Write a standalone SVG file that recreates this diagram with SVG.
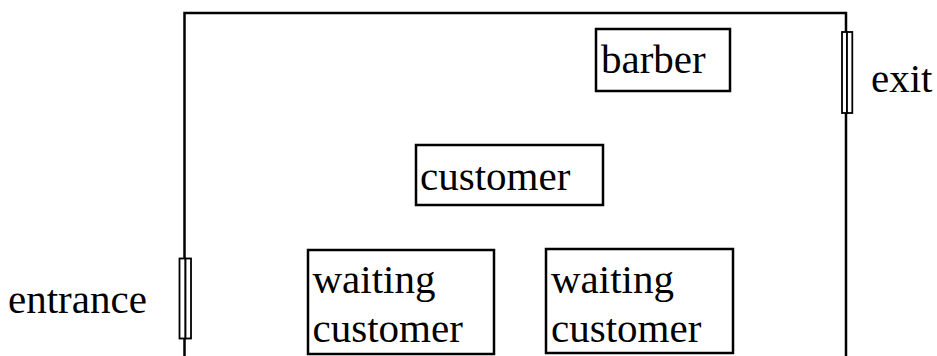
<svg xmlns="http://www.w3.org/2000/svg" width="937" height="356" viewBox="0 0 937 356">
<style>
.ln{fill:none;stroke:#000;stroke-width:2.5}
.bx{fill:#fff;stroke:#000;stroke-width:2.5}
.dr{fill:#fff;stroke:#000;stroke-width:1.8}
text{font-family:"Liberation Serif","Times New Roman",serif;font-size:41px;fill:#000}
</style>
<rect width="937" height="356" fill="#fff"/>
<g id="room">
<path class="ln" d="M184.5,356 V13 H846 V356"/>
</g>
<g id="entrance">
<rect class="dr" x="179.5" y="258.5" width="6" height="80"/>
<rect class="dr" x="185.5" y="258.5" width="5.5" height="80"/>
<text x="8" y="313" font-family="Liberation Serif, serif">entrance</text>
</g>
<g id="exit">
<rect class="dr" x="842" y="32" width="5" height="81"/>
<rect class="dr" x="847" y="32" width="5.3" height="81"/>
<text x="871" y="92" font-family="Liberation Serif, serif">exit</text>
</g>
<g id="barber">
<rect class="bx" x="596" y="29" width="134" height="62"/>
<text x="601" y="73" font-family="Liberation Serif, serif">barber</text>
</g>
<g id="customer">
<rect class="bx" x="416" y="145" width="187" height="60"/>
<text x="420" y="190" font-family="Liberation Serif, serif">customer</text>
</g>
<g id="waiting1">
<rect class="bx" x="308" y="250" width="186" height="104"/>
<text x="312.5" y="293" font-family="Liberation Serif, serif">waiting</text>
<text x="312.5" y="341.5" font-family="Liberation Serif, serif">customer</text>
</g>
<g id="waiting2">
<rect class="bx" x="546" y="249" width="187" height="104"/>
<text x="551" y="293" font-family="Liberation Serif, serif">waiting</text>
<text x="551" y="341.5" font-family="Liberation Serif, serif">customer</text>
</g>
<g id="connectors"></g>
</svg>
